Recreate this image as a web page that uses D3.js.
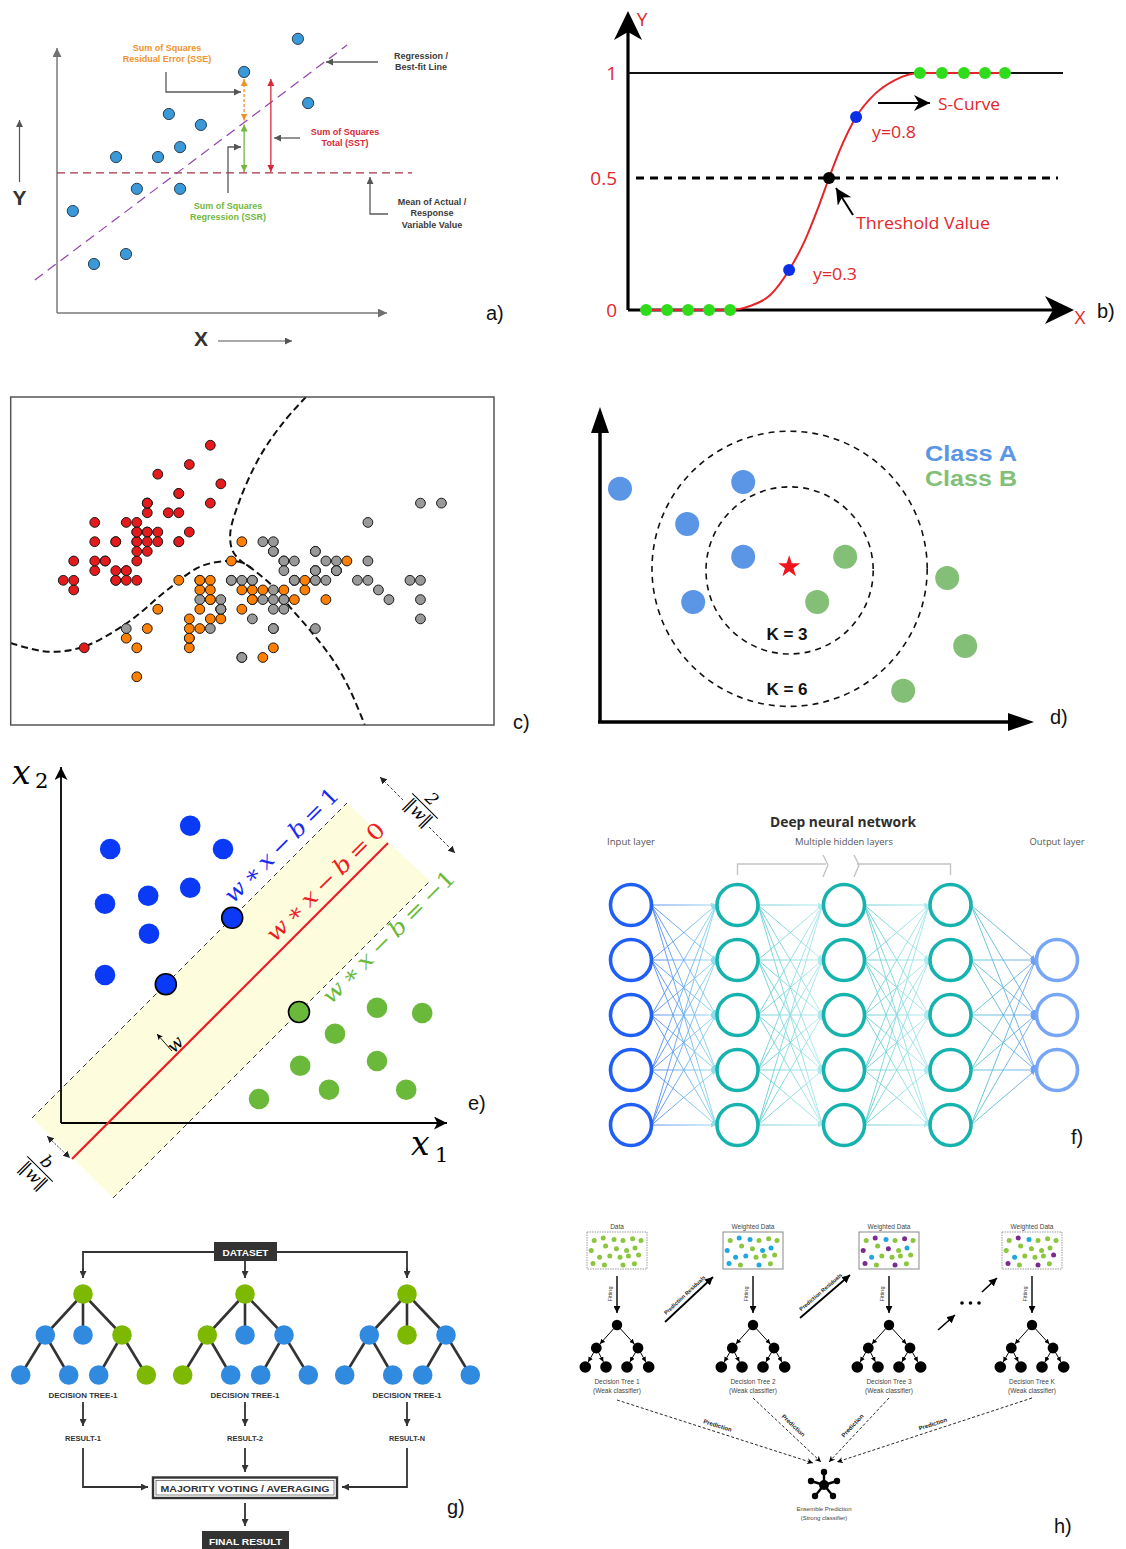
<!DOCTYPE html>
<html><head><meta charset="utf-8">
<script src="https://cdn.jsdelivr.net/npm/d3@7/dist/d3.min.js"></script>
<style>
html,body{margin:0;padding:0;background:#fff}
svg{display:block}
</style></head>
<body>
<svg id="fig" width="1126" height="1549" xmlns="http://www.w3.org/2000/svg"></svg>
<script>
// ================= DATA =================
// a) linear regression: observations, fitted line, mean of response
const regX = [7.30, 5.67, 7.61, 3.39, 4.36, 3.73, 1.79, 3.06, 2.42, 3.73, 0.48, 2.09, 1.12];
const regY = [8.28, 7.28, 6.34, 6.01, 5.68, 5.01, 4.71, 4.71, 3.75, 3.75, 3.08, 1.78, 1.48];
const regIntercept = 1.5, regSlope = 0.75;
const regSpan = [-0.67, 8.79];
const regMeanY = 4.23;
const regSSTx = 6.48;

// b) logistic regression S-curve
const sigGreenLowX = [-8.71, -7.71, -6.71, -5.71, -4.71];
const sigGreenHighX = [4.33, 5.38, 6.43, 7.43, 8.38];
const sigBlue = [[-1.90, 0.3], [1.29, 0.8]];
const sigCurve = [[-9.0, 0], [-4.71, 0], [-3.76, 0.03], [-2.81, 0.11], [-1.90, 0.3], [-1.14, 0.365],
  [-0.52, 0.435], [0, 0.5], [0.52, 0.638], [1.29, 0.8], [2.19, 0.905], [3.14, 0.968], [4.33, 1], [8.62, 1]];
const sigTicks = [0, 0.5, 1];

// c) iris sepal length / sepal width
const setosaSL = [5.1,4.9,4.7,4.6,5.0,5.4,4.6,5.0,4.4,4.9,5.4,4.8,4.8,4.3,5.8,5.7,5.4,5.1,5.7,5.1,5.4,5.1,4.6,5.1,4.8,5.0,5.0,5.2,5.2,4.7,4.8,5.4,5.2,5.5,4.9,5.0,5.5,4.9,4.4,5.1,5.0,4.5,4.4,5.0,5.1,4.8,5.1,4.6,5.3,5.0];
const setosaSW = [3.5,3.0,3.2,3.1,3.6,3.9,3.4,3.4,2.9,3.1,3.7,3.4,3.0,3.0,4.0,4.4,3.9,3.5,3.8,3.8,3.4,3.7,3.6,3.3,3.4,3.0,3.4,3.5,3.4,3.2,3.1,3.4,4.1,4.2,3.1,3.2,3.5,3.6,3.0,3.4,3.5,2.3,3.2,3.5,3.8,3.0,3.8,3.2,3.7,3.3];
const versicolorSL = [7.0,6.4,6.9,5.5,6.5,5.7,6.3,4.9,6.6,5.2,5.0,5.9,6.0,6.1,5.6,6.7,5.6,5.8,6.2,5.6,5.9,6.1,6.3,6.1,6.4,6.6,6.8,6.7,6.0,5.7,5.5,5.5,5.8,6.0,5.4,6.0,6.7,6.3,5.6,5.5,5.5,6.1,5.8,5.0,5.6,5.7,5.7,6.2,5.1,5.7];
const versicolorSW = [3.2,3.2,3.1,2.3,2.8,2.8,3.3,2.4,2.9,2.7,2.0,3.0,2.2,2.9,2.9,3.1,3.0,2.7,2.2,2.5,3.2,2.8,2.5,2.8,2.9,3.0,2.8,3.0,2.9,2.6,2.4,2.4,2.7,2.7,3.0,3.4,3.1,2.3,3.0,2.5,2.6,3.0,2.6,2.3,2.7,3.0,2.9,2.9,2.5,2.8];
const virginicaSL = [6.3,5.8,7.1,6.3,6.5,7.6,4.9,7.3,6.7,7.2,6.5,6.4,6.8,5.7,5.8,6.4,6.5,7.7,7.7,6.0,6.9,5.6,7.7,6.3,6.7,7.2,6.2,6.1,6.4,7.2,7.4,7.9,6.4,6.3,6.1,7.7,6.3,6.4,6.0,6.9,6.7,6.9,5.8,6.8,6.7,6.7,6.3,6.5,6.2,5.9];
const virginicaSW = [3.3,2.7,3.0,2.9,3.0,3.0,2.5,2.9,2.5,3.6,3.2,2.7,3.0,2.5,2.8,3.2,3.0,3.8,2.6,2.2,3.2,2.8,2.8,2.7,3.3,3.2,2.8,3.0,2.8,3.0,2.8,3.8,2.8,2.8,2.6,3.0,3.4,3.1,3.0,3.1,3.1,3.1,2.7,3.2,3.3,3.0,2.5,3.0,3.4,3.0];
const irisColors = ['#e41a1c', '#ff7f00', '#999999'];
const boundaryUpper = [[6.61,4.90],[6.39,4.63],[6.17,4.28],[5.98,3.83],[5.89,3.49],[5.91,3.31],[5.98,3.21],[6.11,3.11]];
const boundaryRight = [[6.11,3.11],[6.33,2.90],[6.46,2.72],[6.65,2.48],[6.87,2.17],[7.03,1.86],[7.17,1.50]];
const boundaryLeft = [[3.80,2.35],[4.15,2.26],[4.49,2.31],[4.91,2.56],[5.29,2.90],[5.60,3.14],[5.86,3.20],[6.01,3.18],[6.11,3.11]];

// d) k-nearest neighbours
const knnClassA = [[0.5,5.83],[3.58,6.0],[2.18,4.95],[3.58,4.13],[2.33,3.0]];
const knnClassB = [[6.13,4.13],[5.43,3.0],[8.68,3.6],[9.13,1.9],[7.58,0.78]];
const knnQuery = [4.73, 3.88];
const knnK = [3, 6];
const knnRadius = [2.09, 3.44];
const knnCentreY = [3.79, 3.83];

// e) support vector machine
const svmBlue = [[3.23,7.43],[1.23,6.85],[4.05,6.85],[1.10,5.48],[2.18,5.68],[3.23,5.88],[2.20,4.73],[1.10,3.70]];
const svmGreen = [[7.90,2.88],[9.03,2.75],[6.85,2.23],[5.98,1.43],[7.90,1.55],[6.70,0.83],[8.63,0.83],[4.95,0.60]];
const svmSupportBlue = [[4.28,5.13],[2.62,3.47]];
const svmSupportGreen = [[5.95,2.775]];
const svmLevels = [1, 0, -1];
const svmOffset = [0.85, -1.175, -3.175];
const svmSpan = [[-0.725, 7.15], [0.275, 8.175], [1.3, 9.225]];

// f) deep neural network
const nnLayerSizes = [5, 5, 5, 5, 3];
const nnLayerTitles = ['Input layer', 'Multiple hidden layers', 'Output layer'];

// g) random forest
const forestNames = ['DECISION TREE-1', 'DECISION TREE-1', 'DECISION TREE-1'];
const forestResults = ['RESULT-1', 'RESULT-2', 'RESULT-N'];
const forestNodeColours = ['gbbgbbbg', 'ggbbgbbb', 'gbgbbbbb'];

// h) gradient boosting
const boostTitles = ['Data', 'Weighted Data', 'Weighted Data', 'Weighted Data'];
const boostTrees = ['Decision Tree 1', 'Decision Tree 2', 'Decision Tree 3', 'Decision Tree K'];
const boostDotLayout = [[.12,.23],[.27,.16],[.45,.2],[.6,.23],[.76,.18],[.9,.23],[.07,.5],[.31,.38],[.49,.45],[.66,.5],[.8,.43],[.21,.68],[.38,.65],[.55,.68],[.69,.65],[.86,.62],[.1,.85],[.29,.89],[.6,.89],[.79,.86]];
const boostDotColours = ['gggggggggggggggggggg', 'gbbgggbggbbbbgggbgbg', 'gpbgpgpgpgbbggggpgpg', 'gpbggggggggbgggppgpg'];

const panelLetters = ['a)', 'b)', 'c)', 'd)', 'e)', 'f)', 'g)', 'h)'];

// ================= DRAWING =================
const svg = d3.select('#fig');
svg.append('rect').attr('width', 1126).attr('height', 1549).attr('fill', '#fff');
const defs = svg.append('defs');
const SANS = 'Liberation Sans, Arial, sans-serif';
const SERIF = 'DejaVu Serif, Liberation Serif, serif';

function arrowMarker(id, color, size, shape) {
  const m = defs.append('marker').attr('id', id)
    .attr('viewBox', '0 0 10 10').attr('refX', 10).attr('refY', 5)
    .attr('markerWidth', size).attr('markerHeight', size)
    .attr('markerUnits', 'userSpaceOnUse').attr('orient', 'auto-start-reverse');
  m.append('path').attr('d', shape || 'M0,0 L10,5 L0,10 Z').attr('fill', color);
  return `url(#${id})`;
}
function txt(g, x, y, s, o = {}) {
  const t = g.append('text').attr('x', x).attr('y', y).text(s)
    .attr('font-family', o.font || SANS)
    .attr('font-size', o.size || 10)
    .attr('fill', o.fill || '#000')
    .attr('text-anchor', o.anchor || 'start');
  if (o.weight) t.attr('font-weight', o.weight);
  if (o.style) t.attr('font-style', o.style);
  if (o.len) t.attr('textLength', o.len).attr('lengthAdjust', 'spacingAndGlyphs');
  if (o.ls) t.attr('letter-spacing', o.ls);
  if (o.rotate != null) t.attr('transform', `rotate(${o.rotate},${x},${y})`);
  return t;
}
function seg(g, x1, y1, x2, y2, stroke, w, o = {}) {
  const l = g.append('line').attr('x1', x1).attr('y1', y1).attr('x2', x2).attr('y2', y2)
    .attr('stroke', stroke).attr('stroke-width', w);
  if (o.dash) l.attr('stroke-dasharray', o.dash);
  if (o.end) l.attr('marker-end', o.end);
  if (o.start) l.attr('marker-start', o.start);
  return l;
}

// ---------- a) regression ----------
{
  const g = svg.append('g');
  const x = d3.scaleLinear().domain([0, 10]).range([57, 387]);
  const y = d3.scaleLinear().domain([0, 9]).range([313, 15]);
  const mAxis = arrowMarker('aAxis', '#707070', 9);
  const mPtr = arrowMarker('aPtr', '#555', 7);
  const mOr = arrowMarker('aOr', '#f0932b', 7);
  const mGr = arrowMarker('aGr', '#72b83e', 7);
  const mRd = arrowMarker('aRd', '#d42a3c', 7);
  seg(g, x(0), y(0), x(0), y(8.0), '#7a7a7a', 1.5, {end: mAxis});
  seg(g, x(0), y(0), x(10), y(0), '#7a7a7a', 1.5, {end: mAxis});
  // mean and fitted line
  seg(g, x(0), y(regMeanY), x(10.76), y(regMeanY), '#a83246', 1.2, {dash: '8,5'});
  const fit = v => regIntercept + regSlope * v;
  seg(g, x(regSpan[0]), y(fit(regSpan[0])), x(regSpan[1]), y(fit(regSpan[1])), '#8e44ad', 1.2, {dash: '10,6'});
  // decomposition arrows on the highlighted observation
  const px = x(regX[1]);
  seg(g, px, y(regY[1]) + 7, px, y(fit(regX[1])) - 2, '#f0932b', 1.3, {dash: '3,2', start: mOr, end: mOr});
  seg(g, px, y(fit(regX[1])) + 2, px, y(regMeanY) - 1, '#72b83e', 1.3, {start: mGr, end: mGr});
  seg(g, x(regSSTx), y(regY[1]) + 7, x(regSSTx), y(regMeanY) - 1, '#d42a3c', 1.3, {start: mRd, end: mRd});
  g.selectAll('circle.obs').data(regX.map((v, i) => [v, regY[i]])).join('circle')
    .attr('cx', d => x(d[0])).attr('cy', d => y(d[1])).attr('r', 5.6)
    .attr('fill', '#3a9ad9').attr('stroke', '#2b3e50').attr('stroke-width', 1);
  // pointers
  const ptr = d => g.append('path').attr('d', d).attr('fill', 'none').attr('stroke', '#5a5a5a').attr('stroke-width', 1.3).attr('marker-end', mPtr);
  ptr('M166,72 V92 H241');
  ptr('M378,62 H326');
  ptr('M300,138 H274');
  ptr('M228,193 V147 H241');
  ptr('M388,214 H370 V177');
  const lab = (lines, cx, y0, fill) => lines.forEach((s, i) => txt(g, cx, y0 + i * 11.3, s, {size: 9, weight: 'bold', fill, anchor: 'middle'}));
  lab(['Sum of Squares', 'Residual Error (SSE)'], 167, 51, '#f0932b');
  lab(['Regression /', 'Best-fit Line'], 421, 59, '#3b3b3b');
  lab(['Sum of Squares', 'Total (SST)'], 345, 135, '#d42a3c');
  lab(['Sum of Squares', 'Regression (SSR)'], 228, 209, '#72b83e');
  lab(['Mean of Actual /', 'Response', 'Variable Value'], 432, 205, '#3b3b3b');
  txt(g, 19.5, 205, 'Y', {size: 21, weight: 'bold', anchor: 'middle', fill: '#333'});
  txt(g, 201, 346, 'X', {size: 21, weight: 'bold', anchor: 'middle', fill: '#333'});
  seg(g, 19.5, 182, 19.5, 120, '#555', 1.2, {end: mPtr});
  seg(g, 218, 341, 292, 341, '#555', 1.2, {end: mPtr});
}

// ---------- b) logistic S-curve ----------
{
  const g = svg.append('g');
  const x = d3.scaleLinear().domain([-10, 11]).range([619, 1060]);
  const y = d3.scaleLinear().domain([0, 0.3, 0.5, 0.8, 1]).range([310, 270, 178, 117, 73]);
  const red = '#e3262b';
  seg(g, 628, y(0), 628, 30, '#000', 3.2);
  seg(g, 628, y(0), 1056, y(0), '#000', 3.2);
  g.append('path').attr('d', 'M628,11 L642,40 L628,32 L614,40 Z').attr('fill', '#000');
  g.append('path').attr('d', 'M1074,310 L1045,296 L1053,310 L1045,324 Z').attr('fill', '#000');
  seg(g, 628, y(1), 1063, y(1), '#111', 2.2);
  seg(g, 636, y(0.5), 1058, y(0.5), '#000', 3, {dash: '8,6'});
  const line = d3.line().x(d => x(d[0])).y(d => y(d[1])).curve(d3.curveMonotoneX);
  g.append('path').attr('d', line(sigCurve)).attr('fill', 'none').attr('stroke', red).attr('stroke-width', 2);
  g.selectAll('circle.lo').data(sigGreenLowX).join('circle').attr('cx', d => x(d)).attr('cy', y(0)).attr('r', 6).attr('fill', '#2fdc1c');
  g.selectAll('circle.hi').data(sigGreenHighX).join('circle').attr('cx', d => x(d)).attr('cy', y(1)).attr('r', 6).attr('fill', '#2fdc1c');
  g.selectAll('circle.bl').data(sigBlue).join('circle').attr('cx', d => x(d[0])).attr('cy', d => y(d[1])).attr('r', 6).attr('fill', '#0a2fe6');
  g.append('circle').attr('cx', x(0)).attr('cy', y(0.5)).attr('r', 6).attr('fill', '#000');
  sigTicks.forEach(v => txt(g, 617, y(v) + 7, String(v), {size: 19, fill: red, anchor: 'end', font: 'Open Sans, sans-serif'}));
  txt(g, 642, 26, 'Y', {size: 19, fill: red, anchor: 'middle', font: 'Open Sans, sans-serif'});
  txt(g, 1080, 324, 'X', {size: 19, fill: red, anchor: 'middle', font: 'Open Sans, sans-serif'});
  const mBig = arrowMarker('bArr', '#000', 16, 'M0,0 L10,5 L0,10 L3,5 Z');
  seg(g, 878, 103, 930, 103, '#000', 2, {end: mBig});
  seg(g, 853, 215, 836, 188, '#000', 2, {end: mBig});
  txt(g, 938, 110, 'S-Curve', {size: 17, fill: red, font: 'Open Sans, sans-serif', len: 62});
  txt(g, 872, 138, 'y=0.8', {size: 16, fill: red, font: 'Open Sans, sans-serif', len: 44});
  txt(g, 856, 229, 'Threshold Value', {size: 17, fill: red, font: 'Open Sans, sans-serif', len: 134});
  txt(g, 813, 280, 'y=0.3', {size: 16, fill: red, font: 'Open Sans, sans-serif', len: 44});
}

// ---------- c) iris decision regions ----------
{
  const g = svg.append('g');
  const x = d3.scaleLinear().domain([3.8, 8.4]).range([10.7, 494]);
  const y = d3.scaleLinear().domain([1.5, 4.9]).range([725, 397]);
  const pts = [];
  [[setosaSL, setosaSW], [versicolorSL, versicolorSW], [virginicaSL, virginicaSW]].forEach((s, k) =>
    s[0].forEach((v, i) => pts.push({sl: v, sw: s[1][i], k})));
  const line = d3.line().x(d => x(d[0])).y(d => y(d[1])).curve(d3.curveCatmullRom);
  [boundaryUpper.concat(boundaryRight.slice(1)), boundaryLeft].forEach(b =>
    g.append('path').attr('d', line(b)).attr('fill', 'none').attr('stroke', '#111').attr('stroke-width', 2).attr('stroke-dasharray', '7,4'));
  g.selectAll('circle').data(pts).join('circle')
    .attr('cx', d => x(d.sl)).attr('cy', d => y(d.sw)).attr('r', 4.9)
    .attr('fill', d => irisColors[d.k]).attr('stroke', '#1a1a1a').attr('stroke-width', 1);
  g.append('rect').attr('x', 10.7).attr('y', 397).attr('width', 483.3).attr('height', 328)
    .attr('fill', 'none').attr('stroke', '#555').attr('stroke-width', 1.5);
}

// ---------- d) k-NN ----------
{
  const g = svg.append('g');
  const x = d3.scaleLinear().domain([0, 10]).range([600, 1000]);
  const y = d3.scaleLinear().domain([0, 7.5]).range([722, 422]);
  seg(g, 600, 722, 600, 428, '#000', 3.5);
  seg(g, 598, 722, 1012, 722, '#000', 3.5);
  g.append('path').attr('d', 'M600,407 L609,433 L591,433 Z').attr('fill', '#000');
  g.append('path').attr('d', 'M1034,722 L1008,731 L1008,713 Z').attr('fill', '#000');
  knnRadius.forEach((r, i) => g.append('circle').attr('cx', x(4.74)).attr('cy', y(knnCentreY[i]))
    .attr('r', x(r) - x(0)).attr('fill', 'none').attr('stroke', '#111').attr('stroke-width', 1.6).attr('stroke-dasharray', '6,5'));
  g.selectAll('circle.a').data(knnClassA).join('circle').attr('cx', d => x(d[0])).attr('cy', d => y(d[1])).attr('r', 12).attr('fill', '#5b95e5');
  g.selectAll('circle.b').data(knnClassB).join('circle').attr('cx', d => x(d[0])).attr('cy', d => y(d[1])).attr('r', 12).attr('fill', '#83bf76');
  g.append('path').attr('d', d3.symbol(d3.symbolStar).size(150)())
    .attr('transform', `translate(${x(knnQuery[0])},${y(knnQuery[1])})`).attr('fill', '#f0141e');
  txt(g, 787, 640, `K = ${knnK[0]}`, {size: 17, weight: 'bold', anchor: 'middle', fill: '#111'});
  txt(g, 787, 695, `K = ${knnK[1]}`, {size: 17, weight: 'bold', anchor: 'middle', fill: '#111'});
  txt(g, 925, 461, 'Class A', {size: 22, weight: 'bold', fill: '#5b95e5', len: 92});
  txt(g, 925, 486, 'Class B', {size: 22, weight: 'bold', fill: '#83bf76', len: 92});
}

// ---------- e) SVM ----------
{
  const g = svg.append('g');
  const x = d3.scaleLinear().domain([0, 9.65]).range([61, 447]);
  const y = d3.scaleLinear().domain([0, 8.9]).range([1123, 767]);
  const ends = svmSpan.map((s, i) => s.map(v => [x(v), y(v + svmOffset[i])]));
  g.append('path').attr('d', `M${ends[0][0]} L${ends[0][1]} L${ends[2][1]} L${ends[2][0]} Z`).attr('fill', '#fdfddd');
  const mAx = arrowMarker('eAx', '#000', 13, 'M0,0 L10,5 L0,10 L2.5,5 Z');
  seg(g, x(0), y(0), x(0), 767, '#000', 1.8, {end: mAx});
  seg(g, x(0), y(0), 447, y(0), '#000', 1.8, {end: mAx});
  ends.forEach((e, i) => {
    if (i === 1) seg(g, e[0][0], e[0][1], e[1][0], e[1][1], '#ee1c25', 2.2);
    else seg(g, e[0][0], e[0][1], e[1][0], e[1][1], '#333', 1, {dash: '5,4'});
  });
  g.selectAll('circle.b').data(svmBlue).join('circle').attr('cx', d => x(d[0])).attr('cy', d => y(d[1])).attr('r', 10.3).attr('fill', '#0a3af5');
  g.selectAll('circle.g').data(svmGreen).join('circle').attr('cx', d => x(d[0])).attr('cy', d => y(d[1])).attr('r', 10.3).attr('fill', '#6ab93a');
  g.selectAll('circle.sb').data(svmSupportBlue).join('circle').attr('cx', d => x(d[0])).attr('cy', d => y(d[1])).attr('r', 10.5).attr('fill', '#0a3af5').attr('stroke', '#000').attr('stroke-width', 1.6);
  g.selectAll('circle.sg').data(svmSupportGreen).join('circle').attr('cx', d => x(d[0])).attr('cy', d => y(d[1])).attr('r', 10.5).attr('fill', '#6ab93a').attr('stroke', '#000').attr('stroke-width', 1.6);
  // equation labels along the three lines
  const eqn = (sx, sy, level, fill, len) => {
    const t = g.append('text').attr('x', sx).attr('y', sy).attr('font-family', SERIF).attr('font-size', 22)
      .attr('fill', fill).attr('transform', `rotate(-45,${sx},${sy})`)
      .attr('textLength', len).attr('lengthAdjust', 'spacingAndGlyphs');
    const parts = [['w', 1], ['\u2009∗\u2009', 0], ['x', 1], ['\u2009−\u2009', 0], ['b', 1], ['\u2009=\u2009' + (level < 0 ? '−' + (-level) : level), 0]];
    parts.forEach(p => t.append('tspan').text(p[0]).attr('font-style', p[1] ? 'italic' : 'normal'));
  };
  eqn(233, 904, svmLevels[0], '#1a2cf0', 152);
  eqn(275, 943, svmLevels[1], '#ee1c25', 158);
  eqn(331, 1005, svmLevels[2], '#6ab93a', 178);
  // normal vector w
  const mSmall = arrowMarker('eSm', '#000', 6, 'M0,0 L10,5 L0,10 L2.5,5 Z');
  seg(g, 172, 1051, 157, 1034, '#000', 0.9, {end: mSmall});
  g.append('text').attr('x', 174).attr('y', 1054).attr('font-family', SERIF).attr('font-size', 18).attr('font-style', 'italic')
    .attr('transform', 'rotate(-45,174,1054)').text('w');
  // margin width 2/||w|| and offset b/||w||
  const mD = arrowMarker('eD', '#222', 7);
  seg(g, 380, 777, 403, 800, '#222', 0.9, {dash: '3,2', start: mD});
  seg(g, 429, 827, 455, 853, '#222', 0.9, {dash: '3,2', end: mD});
  const frac = (cx, cy, top) => {
    const f = g.append('g').attr('transform', `translate(${cx},${cy}) rotate(45)`);
    f.append('text').attr('x', 0).attr('y', -4).attr('text-anchor', 'middle').attr('font-family', SERIF).attr('font-size', 17).attr('font-style', 'italic').text(top);
    f.append('line').attr('x1', -18).attr('x2', 18).attr('y1', 0).attr('y2', 0).attr('stroke', '#000').attr('stroke-width', 1);
    const b = f.append('text').attr('x', 0).attr('y', 15).attr('text-anchor', 'middle').attr('font-family', SERIF).attr('font-size', 17)
      .attr('textLength', 32).attr('lengthAdjust', 'spacingAndGlyphs');
    b.append('tspan').text('‖');
    b.append('tspan').text('w').attr('font-style', 'italic');
    b.append('tspan').text('‖');
  };
  frac(425, 806, '2');
  seg(g, 47, 1136, 70, 1158, '#222', 0.9, {dash: '2,1.5', start: mD, end: mD});
  frac(40, 1169, 'b');
  // axis names
  txt(g, 12, 784, 'x', {font: SERIF, size: 33, style: 'italic'});
  txt(g, 35, 788, '2', {font: SERIF, size: 21});
  txt(g, 411, 1155, 'x', {font: SERIF, size: 33, style: 'italic'});
  txt(g, 435, 1162, '1', {font: SERIF, size: 21});
}

// ---------- f) deep neural network ----------
{
  const g = svg.append('g');
  const x = d3.scalePoint().domain(d3.range(nnLayerSizes.length)).range([631, 1057]);
  const y = d3.scaleLinear().domain([0, 4]).range([905, 1125]);
  const r = 20.5;
  const nodes = nnLayerSizes.map((n, l) => d3.range(n).map(i => ({l, row: n === 5 ? i : i + 1})));
  const stroke = ['#1f5ff5', '#16b3ae', '#16b3ae', '#16b3ae', '#78a6f6'];
  const gapCols = [['#4a80f2', '#8fdcec'], ['#5fcbcf', '#aee9ef'], ['#5fcbcf', '#aee9ef'], ['#56c6cb', '#6ea2f0']];
  gapCols.forEach((c, i) => {
    const gr = defs.append('linearGradient').attr('id', 'fg' + i).attr('gradientUnits', 'userSpaceOnUse')
      .attr('x1', x(i) + r).attr('x2', x(i + 1) - r).attr('y1', 0).attr('y2', 0);
    gr.append('stop').attr('offset', 0).attr('stop-color', c[0]);
    gr.append('stop').attr('offset', 1).attr('stop-color', c[1]);
    arrowMarker('fh' + i, c[1], 5);
  });
  for (let l = 0; l < nodes.length - 1; l++) {
    nodes[l].forEach(a => nodes[l + 1].forEach(b => {
      const x1 = x(l) + r, y1 = y(a.row), x2 = x(l + 1) - r - 1, y2 = y(b.row);
      seg(g, x1, y1, x2, y2, `url(#fg${l})`, 0.9, {end: `url(#fh${l})`});
    }));
  }
  nodes.flat().forEach(d => g.append('circle').attr('cx', x(d.l)).attr('cy', y(d.row)).attr('r', r)
    .attr('fill', '#fff').attr('stroke', stroke[d.l]).attr('stroke-width', 3.6));
  txt(g, 843, 827, 'Deep neural network', {size: 14, weight: 'bold', anchor: 'middle', fill: '#2d2d2d', font: 'Open Sans, sans-serif', len: 146});
  txt(g, x(0), 845, nnLayerTitles[0], {size: 9.5, anchor: 'middle', fill: '#555', font: 'Open Sans, sans-serif', len: 48});
  txt(g, x(2), 845, nnLayerTitles[1], {size: 9.5, anchor: 'middle', fill: '#555', font: 'Open Sans, sans-serif', len: 98});
  txt(g, x(4), 845, nnLayerTitles[2], {size: 9.5, anchor: 'middle', fill: '#555', font: 'Open Sans, sans-serif', len: 55});
  g.append('path').attr('d', `M${x(1)},875 V864 H826 M${x(3)},875 V864 H857`).attr('fill', 'none').attr('stroke', '#c4c4c4').attr('stroke-width', 1.4);
  g.append('path').attr('d', 'M823,855 L828,865 L823,877 M854,855 L859,865 L854,877').attr('fill', 'none').attr('stroke', '#c4c4c4').attr('stroke-width', 1.4);
}

// ---------- g) random forest ----------
{
  const g = svg.append('g');
  const dark = '#333';
  const cx = [83, 245, 407];
  const mA = arrowMarker('gA', dark, 7);
  g.append('rect').attr('x', 214).attr('y', 1242).attr('width', 63).attr('height', 19).attr('fill', dark);
  txt(g, 245.5, 1255.5, 'DATASET', {size: 8.5, weight: 'bold', fill: '#fff', anchor: 'middle', len: 46});
  g.append('path').attr('d', 'M214,1252 H83 V1277 M277,1252 H407 V1277').attr('fill', 'none').attr('stroke', dark).attr('stroke-width', 1.8);
  seg(g, 83, 1268, 83, 1278, dark, 1.8, {end: mA});
  seg(g, 407, 1268, 407, 1278, dark, 1.8, {end: mA});
  seg(g, 245, 1261, 245, 1278, dark, 1.8, {end: mA});
  const colour = {g: '#7db900', b: '#2f8ae0'};
  const nodePos = [[0, 1294], [-37.7, 1335], [0, 1335], [39, 1335], [-62.3, 1375], [-14.3, 1375], [15.7, 1375], [63.3, 1375]];
  const links = [[0, 1], [0, 2], [0, 3], [1, 4], [1, 5], [3, 6], [3, 7]];
  cx.forEach((c, t) => {
    links.forEach(([a, b]) => seg(g, c + nodePos[a][0], nodePos[a][1], c + nodePos[b][0], nodePos[b][1], dark, 2.6));
    nodePos.forEach((p, i) => g.append('circle').attr('cx', c + p[0]).attr('cy', p[1]).attr('r', 9.8).attr('fill', colour[forestNodeColours[t][i]]));
    txt(g, c, 1397.5, forestNames[t], {size: 7.5, weight: 'bold', fill: dark, anchor: 'middle', len: 69});
    seg(g, c, 1402, c, 1426, dark, 1.8, {end: mA});
    txt(g, c, 1441, forestResults[t], {size: 7.5, weight: 'bold', fill: dark, anchor: 'middle', len: 36});
  });
  g.append('path').attr('d', 'M83,1448 V1487 H148').attr('fill', 'none').attr('stroke', dark).attr('stroke-width', 1.8).attr('marker-end', mA);
  g.append('path').attr('d', 'M407,1448 V1487 H342').attr('fill', 'none').attr('stroke', dark).attr('stroke-width', 1.8).attr('marker-end', mA);
  seg(g, 245, 1448, 245, 1472, dark, 1.8, {end: mA});
  g.append('rect').attr('x', 153).attr('y', 1477.5).attr('width', 184).attr('height', 20.5).attr('fill', '#fff').attr('stroke', dark).attr('stroke-width', 2.4);
  g.append('rect').attr('x', 156).attr('y', 1480.5).attr('width', 178).attr('height', 14.5).attr('fill', 'none').attr('stroke', dark).attr('stroke-width', 0.6);
  txt(g, 245, 1491.5, 'MAJORITY VOTING / AVERAGING', {size: 8.5, weight: 'bold', fill: dark, anchor: 'middle', len: 169});
  seg(g, 245, 1503, 245, 1526, dark, 1.8, {end: mA});
  g.append('rect').attr('x', 202).attr('y', 1531).attr('width', 87).attr('height', 20).attr('fill', dark);
  txt(g, 245.5, 1545, 'FINAL RESULT', {size: 8.5, weight: 'bold', fill: '#fff', anchor: 'middle', len: 73});
}

// ---------- h) gradient boosting ----------
{
  const g = svg.append('g');
  const cols = [617, 753, 889, 1032];
  const dotCol = {g: '#8cc63f', b: '#1ea7e0', p: '#7b2d8e'};
  const mT = arrowMarker('hT', '#000', 5);
  const mF = arrowMarker('hF', '#000', 7);
  const treePos = [[0, 1325, 5.2], [-20.7, 1348, 5.4], [21, 1348, 5.4], [-31.7, 1367, 5.8], [-11, 1367, 5.8], [10, 1367, 5.8], [31.7, 1367, 5.8]];
  const treeLinks = [[0, 1], [0, 2], [1, 3], [1, 4], [2, 5], [2, 6]];
  cols.forEach((c, k) => {
    txt(g, c, 1228.5, boostTitles[k], {size: 6.5, fill: '#444', anchor: 'middle'});
    const bx = c - 30, by = 1232;
    g.append('rect').attr('x', bx).attr('y', by).attr('width', 60).attr('height', 37).attr('fill', '#fff')
      .attr('stroke', (k === 0 || k === 3) ? '#9a9a9a' : '#888').attr('stroke-width', 1)
      .attr('stroke-dasharray', (k === 0 || k === 3) ? '1.5,1' : null);
    boostDotLayout.forEach((p, i) => g.append('circle').attr('cx', bx + p[0] * 60).attr('cy', by + p[1] * 37).attr('r', 2.5)
      .attr('fill', dotCol[boostDotColours[k][i]]));
    seg(g, c, 1276, c, 1313, '#000', 1.4, {end: mF});
    txt(g, c - 5, 1294, 'Fitting', {size: 5.5, fill: '#444', anchor: 'middle', rotate: -90});
    treeLinks.forEach(([a, b]) => {
      const A = treePos[a], B = treePos[b];
      const dx = B[0] - A[0], dy = B[1] - A[1], L = Math.hypot(dx, dy);
      seg(g, c + A[0], A[1], c + B[0] - dx / L * B[2], B[1] - dy / L * B[2], '#000', 1, {end: mT});
    });
    treePos.forEach(p => g.append('circle').attr('cx', c + p[0]).attr('cy', p[1]).attr('r', p[2]).attr('fill', '#000'));
    txt(g, c, 1384, boostTrees[k], {size: 6.5, fill: '#444', anchor: 'middle'});
    txt(g, c, 1393, '(Weak classifier)', {size: 6.5, fill: '#444', anchor: 'middle'});
  });
  // residual passing between stages
  const mR = arrowMarker('hR', '#000', 8);
  [[665, 1322, 713, 1277], [800, 1318, 850, 1275]].forEach(a => {
    seg(g, a[0], a[1], a[2], a[3], '#000', 1.8, {end: mR});
    const mx = (a[0] + a[2]) / 2 - 3, my = (a[1] + a[3]) / 2 - 3;
    const ang = Math.atan2(a[3] - a[1], a[2] - a[0]) * 180 / Math.PI;
    txt(g, mx, my, 'Prediction Residuals', {size: 5.5, weight: 'bold', fill: '#222', anchor: 'middle', rotate: ang});
  });
  seg(g, 938, 1330, 955, 1315, '#000', 1.6, {end: mR});
  seg(g, 982, 1292, 997, 1278, '#000', 1.6, {end: mR});
  [962, 970.5, 979].forEach(v => g.append('circle').attr('cx', v).attr('cy', 1303).attr('r', 1.8).attr('fill', '#000'));
  // predictions gathered into the ensemble
  const targets = [[813, 1463], [821, 1462], [829, 1462], [837, 1462]];
  const starts = [[617, 1400], [753, 1398], [889, 1398], [1032, 1398]];
  const mP = arrowMarker('hP', '#000', 6, 'M0,0 L10,5 L0,10 L3,5 Z');
  starts.forEach((s, i) => {
    const t = targets[i];
    seg(g, s[0], s[1], t[0], t[1], '#111', 0.9, {dash: '3,2', end: mP});
    let ang = Math.atan2(t[1] - s[1], t[0] - s[0]) * 180 / Math.PI;
    if (ang > 90) ang -= 180;
    const f = 0.5, mx = s[0] + (t[0] - s[0]) * f, my = s[1] + (t[1] - s[1]) * f;
    const off = [[2, -4], [5, -3], [-5, -3], [-1, -4]][i];
    txt(g, mx + off[0], my + off[1], 'Prediction', {size: 6, weight: 'bold', fill: '#222', anchor: 'middle', rotate: ang});
  });
  const hub = [824, 1485];
  const spokes = [[0, -13], [-13, -4], [13, -4], [-9, 11], [9, 11]];
  spokes.forEach(s => {
    seg(g, hub[0], hub[1], hub[0] + s[0], hub[1] + s[1], '#000', 2.4);
    g.append('circle').attr('cx', hub[0] + s[0]).attr('cy', hub[1] + s[1]).attr('r', 3.2).attr('fill', '#000');
  });
  g.append('circle').attr('cx', hub[0]).attr('cy', hub[1]).attr('r', 5).attr('fill', '#000');
  txt(g, 824, 1511, 'Ensemble Prediction', {size: 6, fill: '#444', anchor: 'middle'});
  txt(g, 824, 1520, '(Strong classifier)', {size: 6, fill: '#444', anchor: 'middle'});
}

// ---------- panel letters ----------
{
  const pos = [[486, 320], [1097, 318], [513, 729], [1050, 724], [468, 1110], [1071, 1144], [447, 1514], [1054, 1533]];
  panelLetters.forEach((s, i) => txt(svg, pos[i][0], pos[i][1], s, {size: 20, fill: '#111'}));
}
</script>
</body></html>
